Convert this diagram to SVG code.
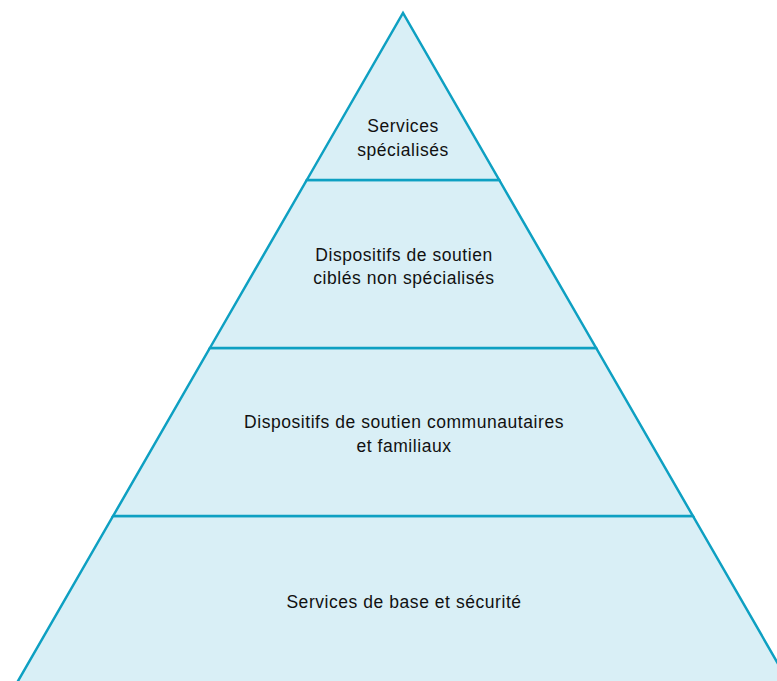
<svg xmlns="http://www.w3.org/2000/svg" width="777" height="681" viewBox="0 0 777 681">
<style>
.tier{fill:#d9eff6;stroke:#0ea0c2;stroke-width:2.5;stroke-linejoin:miter}
.lbl{font-family:"Liberation Sans","DejaVu Sans",sans-serif;font-size:17.5px;letter-spacing:0.55px;fill:#111;text-anchor:middle}
</style>
<rect width="777" height="681" fill="#ffffff"/>
<g id="tier4">
<polygon class="tier" points="15.7,685 113.1,516 692.9,516 790.3,685"/>
<text class="lbl" x="404" y="608">Services de base et sécurité</text>
</g>
<g id="tier3">
<polygon class="tier" points="113.1,516 209.9,348 596.1,348 692.9,516"/>
<text class="lbl" x="404" y="428">Dispositifs de soutien communautaires</text>
<text class="lbl" x="404" y="452">et familiaux</text>
</g>
<g id="tier2">
<polygon class="tier" points="209.9,348 306.8,180 499.2,180 596.1,348"/>
<text class="lbl" x="404" y="261">Dispositifs de soutien</text>
<text class="lbl" x="404" y="284">ciblés non spécialisés</text>
</g>
<g id="tier1">
<polygon class="tier" points="306.8,180 403,13 499.2,180"/>
<text class="lbl" x="403" y="132">Services</text>
<text class="lbl" x="403" y="156">spécialisés</text>
</g>
<g id="connectors"></g>
</svg>
